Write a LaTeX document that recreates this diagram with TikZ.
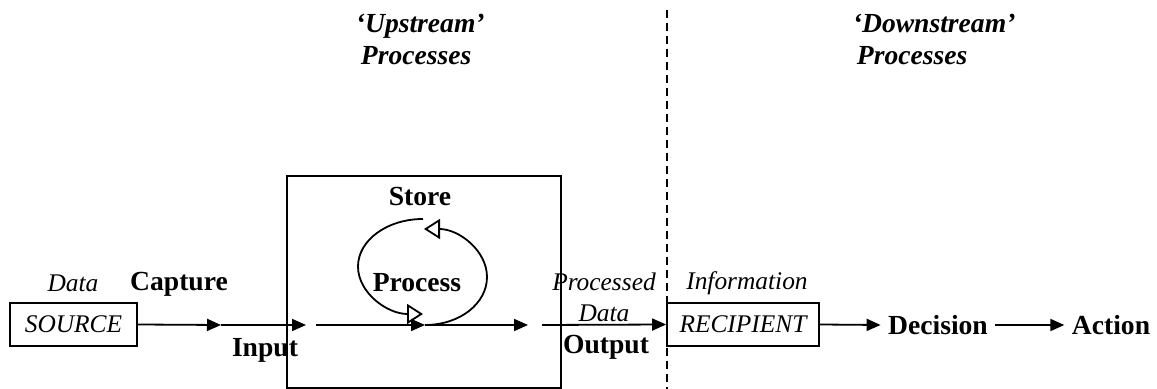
\documentclass[tikz,border=0pt]{standalone}
\usepackage{fontspec}
\setmainfont{Liberation Serif}
\usetikzlibrary{arrows.meta,positioning}

\begin{document}
\begin{tikzpicture}[
    x=0.5pt, y=-0.5pt,
    >={Triangle[length=7pt, width=6pt]},
    line width=0.9pt,
    stage/.style={font=\fontsize{13.8}{15}\selectfont\bfseries},
    flow/.style={font=\fontsize{12.7}{15.5}\selectfont\itshape, align=center},
    heading/.style={font=\fontsize{13.8}{14}\selectfont\bfseries\itshape,
        align=left, anchor=north west, inner sep=0pt},
    endbox/.style={
        rectangle, draw, inner sep=0pt,
        minimum height=21.5pt,
        font=\fontsize{12.7}{15}\selectfont\itshape
    },
    loop/.style={-{Triangle[open, length=8pt, width=10pt]}}
]
    \useasboundingbox (0,0) rectangle (1157,389);

    % headings either side of the divider
    \node [heading] (upstream) at (355,13) {`Upstream'\\[2pt]\hspace{2.5pt}Processes};
    \node [heading] (downstream) at (852,13) {`Downstream'\\[2pt]\hspace{2pt}Processes};

    % divider between the two halves
    \coordinate (divtop) at (667,10);
    \coordinate (divbot) at (667,389);
    \draw [line width=0.7pt, dash pattern=on 4pt off 2.5pt] (divtop) -- (divbot);

    % the processing system
    \node [draw, minimum width=137pt, minimum height=106pt] (system) at (424,282) {};

    % end points of the chain
    \node [endbox, minimum width=63.5pt] (source) at (73.5,324.5) {SOURCE};
    \node [endbox, minimum width=76pt, fill=white] (recipient) at (743,324.5) {RECIPIENT};
    \node [stage] (decision) at (938,325) {Decision};
    \node [stage] (action) at (1111,325) {Action};

    % labels
    \node [flow] (data) at (73,283) {Data};
    \node [stage] (capture) at (179,284) {Capture};
    \node [stage] (input) at (265,350) {Input};
    \node [stage] (store) at (420,197) {Store};
    \node [stage] (process) at (417,283) {Process};
    \node [flow] (procdata) at (604,297) {Processed\\Data};
    \node [stage] (output) at (606,347) {Output};
    \node [flow] (information) at (747,283) {Information};

    % points on the main line
    \coordinate (capmid) at (221,325);
    \coordinate (inend) at (306,325);
    \coordinate (pin) at (316,325);
    \coordinate (pmid) at (425,325);
    \coordinate (pout) at (528,325);
    \coordinate (outstart) at (542,325);

    % main flow
    \draw [->] (source.east) -- (capmid);
    \draw [->] (capmid) -- (inend);
    \draw [->] (pin) -- (pmid);
    \draw [->] (pmid) -- (pout);
    \draw [->] (outstart) -- (recipient.west);
    \draw [->] (recipient.east) -- (decision.west);
    \draw [->] (decision.east) -- (action.west);

    % store / process cycle
    \coordinate (looptop) at (423,219);
    \coordinate (loopbot) at (423,314);
    \coordinate (loopend) at (424,229);
    \draw [loop] (looptop) .. controls (387.1,219) and (358,240.3) .. (358,266.5)
        .. controls (358,292.7) and (387.1,314) .. (loopbot);
    \draw [loop] (pmid) .. controls (459.8,325) and (487,303.5) .. (487,277)
        .. controls (487,250.5) and (458.8,229) .. (loopend);
\end{tikzpicture}
\end{document}
